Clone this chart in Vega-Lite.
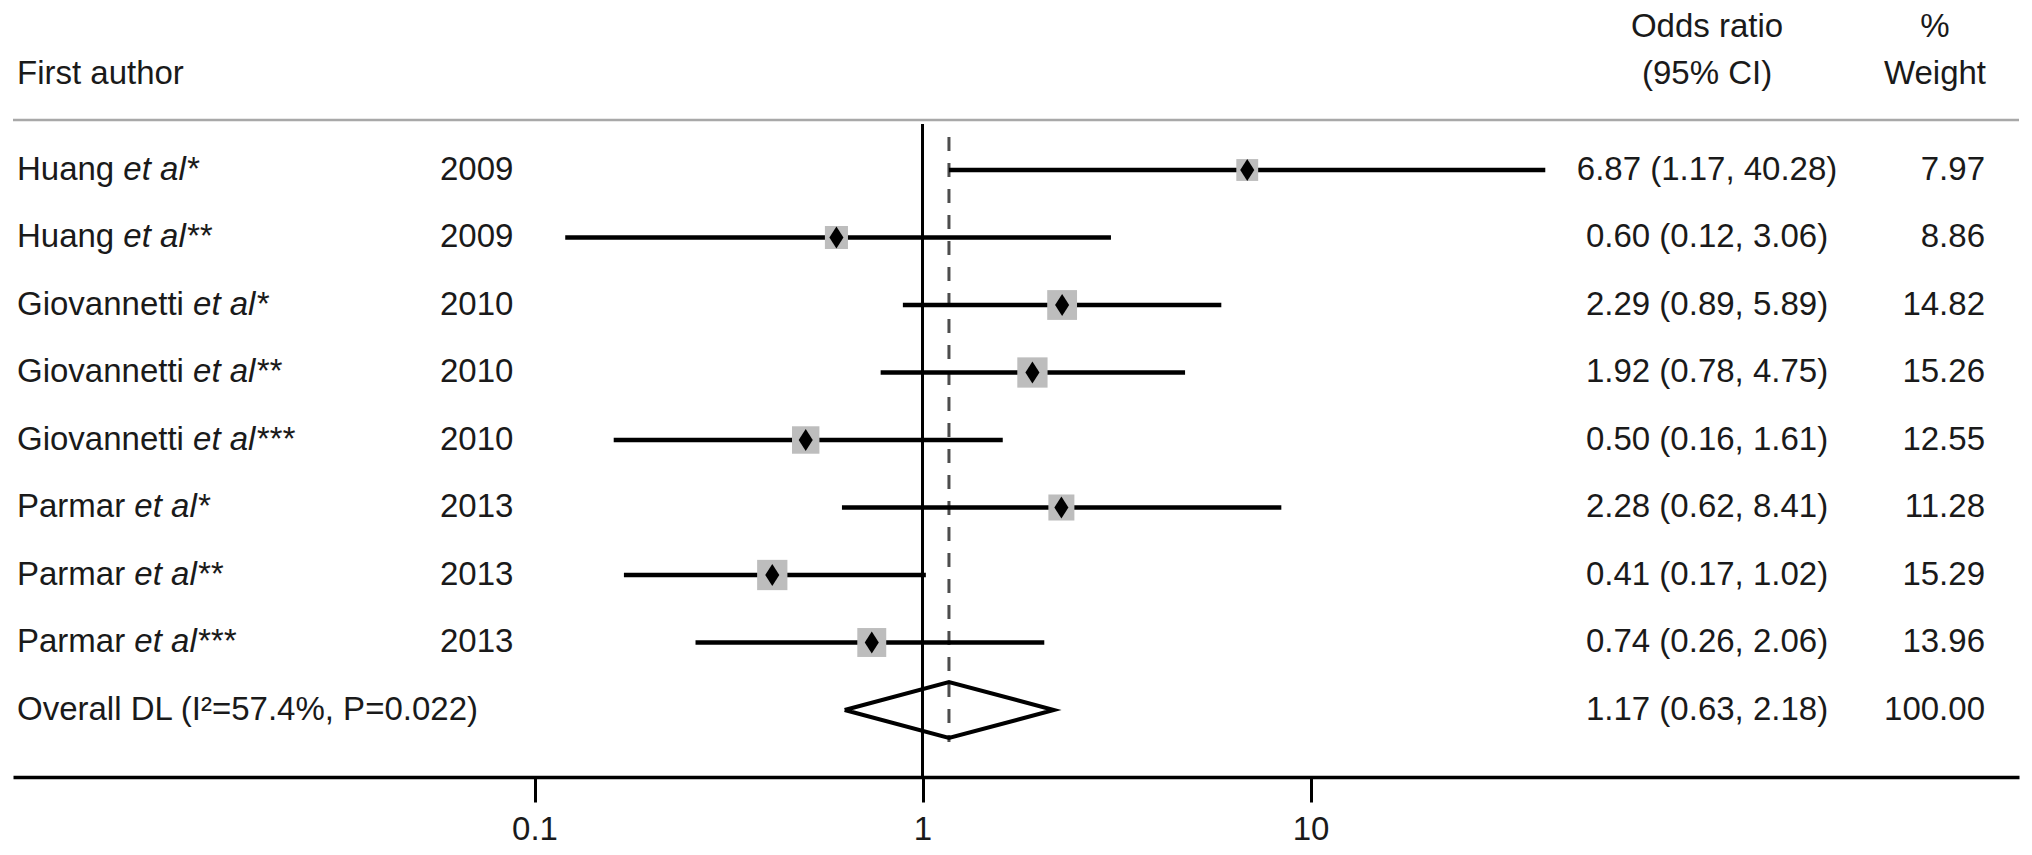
{
  "$schema": "https://vega.github.io/schema/vega-lite/v6.json",
  "width": 2006,
  "height": 777,
  "autosize": {"type": "none"},
  "padding": {"left": 13, "right": 13, "top": 0, "bottom": 78},
  "background": "white",
  "config": {
    "view": {"stroke": null},
    "text": {"font": "Liberation Sans", "fontSize": 33, "color": "#1a1a1a"},
    "axisX": {
      "domainColor": "#000000", "domainWidth": 3.5, "domainCap": "butt",
      "tickColor": "#000000", "tickWidth": 3, "tickSize": 25,
      "labelFont": "Liberation Sans", "labelFontSize": 33, "labelColor": "#1a1a1a",
      "labelPadding": 11, "grid": false, "labelFlush": false
    }
  },
  "datasets": {
    "studies": [
      {"row": 1, "name": "Huang", "etal": "et al*", "year": "2009", "or": 6.87, "lo": 1.17, "hi": 40.28, "weight": 7.97},
      {"row": 2, "name": "Huang", "etal": "et al**", "year": "2009", "or": 0.60, "lo": 0.12, "hi": 3.06, "weight": 8.86},
      {"row": 3, "name": "Giovannetti", "etal": "et al*", "year": "2010", "or": 2.29, "lo": 0.89, "hi": 5.89, "weight": 14.82},
      {"row": 4, "name": "Giovannetti", "etal": "et al**", "year": "2010", "or": 1.92, "lo": 0.78, "hi": 4.75, "weight": 15.26},
      {"row": 5, "name": "Giovannetti", "etal": "et al***", "year": "2010", "or": 0.50, "lo": 0.16, "hi": 1.61, "weight": 12.55},
      {"row": 6, "name": "Parmar", "etal": "et al*", "year": "2013", "or": 2.28, "lo": 0.62, "hi": 8.41, "weight": 11.28},
      {"row": 7, "name": "Parmar", "etal": "et al**", "year": "2013", "or": 0.41, "lo": 0.17, "hi": 1.02, "weight": 15.29},
      {"row": 8, "name": "Parmar", "etal": "et al***", "year": "2013", "or": 0.74, "lo": 0.26, "hi": 2.06, "weight": 13.96}
    ],
    "table": [
      {"row": 1, "name": "Huang", "etal": "et al*", "year": "2009", "ci": "6.87 (1.17, 40.28)", "wt": "7.97"},
      {"row": 2, "name": "Huang", "etal": "et al**", "year": "2009", "ci": "0.60 (0.12, 3.06)", "wt": "8.86"},
      {"row": 3, "name": "Giovannetti", "etal": "et al*", "year": "2010", "ci": "2.29 (0.89, 5.89)", "wt": "14.82"},
      {"row": 4, "name": "Giovannetti", "etal": "et al**", "year": "2010", "ci": "1.92 (0.78, 4.75)", "wt": "15.26"},
      {"row": 5, "name": "Giovannetti", "etal": "et al***", "year": "2010", "ci": "0.50 (0.16, 1.61)", "wt": "12.55"},
      {"row": 6, "name": "Parmar", "etal": "et al*", "year": "2013", "ci": "2.28 (0.62, 8.41)", "wt": "11.28"},
      {"row": 7, "name": "Parmar", "etal": "et al**", "year": "2013", "ci": "0.41 (0.17, 1.02)", "wt": "15.29"},
      {"row": 8, "name": "Parmar", "etal": "et al***", "year": "2013", "ci": "0.74 (0.26, 2.06)", "wt": "13.96"},
      {"row": 9, "name": "Overall DL (I²=57.4%, P=0.022)", "etal": "", "year": "", "ci": "1.17 (0.63, 2.18)", "wt": "100.00"}
    ],
    "diamond": [
      {"k": 0, "v": 0.63, "pos": 9},
      {"k": 1, "v": 1.17, "pos": 8.585},
      {"k": 2, "v": 2.18, "pos": 9},
      {"k": 3, "v": 1.17, "pos": 9.415},
      {"k": 4, "v": 0.63, "pos": 9}
    ]
  },
  "data": {"values": [{}]},
  "layer": [
    {
      "mark": {"type": "rule", "color": "#a8a8a8", "strokeWidth": 2.5},
      "encoding": {
        "y": {"datum": 0.2593, "type": "quantitative", "scale": {"domain": [9.9926, -1.5185], "nice": false, "zero": false}, "axis": null}
      }
    },
    {
      "mark": {"type": "rule", "color": "#000000", "strokeWidth": 3},
      "encoding": {
        "x": {"datum": 1, "type": "quantitative", "scale": {"type": "log", "domain": [0.004528, 669.9], "nice": false}, "axis": {"title": null, "values": [0.1, 1, 10], "format": "~g"}},
        "y": {"datum": 0.3185, "type": "quantitative", "scale": {"domain": [9.9926, -1.5185], "nice": false, "zero": false}, "axis": null},
        "y2": {"datum": 9.9926}
      }
    },
    {
      "mark": {"type": "rule", "color": "#4d4d4d", "strokeWidth": 3, "strokeDash": [14, 12]},
      "encoding": {
        "x": {"datum": 1.17, "type": "quantitative", "scale": {"type": "log", "domain": [0.004528, 669.9], "nice": false}, "axis": {"title": null, "values": [0.1, 1, 10], "format": "~g"}},
        "y": {"datum": 0.5111, "type": "quantitative", "scale": {"domain": [9.9926, -1.5185], "nice": false, "zero": false}, "axis": null},
        "y2": {"datum": 9.4741}
      }
    },
    {
      "data": {"name": "studies"},
      "mark": {"type": "rule", "color": "#000000", "strokeWidth": 4.5},
      "encoding": {
        "x": {"field": "lo", "type": "quantitative", "scale": {"type": "log", "domain": [0.004528, 669.9], "nice": false}, "axis": {"title": null, "values": [0.1, 1, 10], "format": "~g"}},
        "x2": {"field": "hi"},
        "y": {"field": "row", "type": "quantitative", "scale": {"domain": [9.9926, -1.5185], "nice": false, "zero": false}, "axis": null}
      }
    },
    {
      "data": {"name": "studies"},
      "mark": {"type": "point", "shape": "square", "filled": true, "color": "#bdbdbd", "opacity": 1},
      "encoding": {
        "x": {"field": "or", "type": "quantitative", "scale": {"type": "log", "domain": [0.004528, 669.9], "nice": false}, "axis": {"title": null, "values": [0.1, 1, 10], "format": "~g"}},
        "y": {"field": "row", "type": "quantitative", "scale": {"domain": [9.9926, -1.5185], "nice": false, "zero": false}, "axis": null},
        "size": {"field": "weight", "type": "quantitative", "scale": {"type": "linear", "domain": [0, 16], "range": [0, 960]}, "legend": null}
      }
    },
    {
      "data": {"name": "studies"},
      "mark": {"type": "point", "shape": "M0,-1L0.64,0L0,1L-0.64,0Z", "filled": true, "color": "#000000", "opacity": 1, "size": 484},
      "encoding": {
        "x": {"field": "or", "type": "quantitative", "scale": {"type": "log", "domain": [0.004528, 669.9], "nice": false}, "axis": {"title": null, "values": [0.1, 1, 10], "format": "~g"}},
        "y": {"field": "row", "type": "quantitative", "scale": {"domain": [9.9926, -1.5185], "nice": false, "zero": false}, "axis": null}
      }
    },
    {
      "data": {"name": "diamond"},
      "mark": {"type": "line", "color": "#000000", "strokeWidth": 4, "strokeJoin": "miter"},
      "encoding": {
        "x": {"field": "v", "type": "quantitative", "scale": {"type": "log", "domain": [0.004528, 669.9], "nice": false}, "axis": {"title": null, "values": [0.1, 1, 10], "format": "~g"}},
        "y": {"field": "pos", "type": "quantitative", "scale": {"domain": [9.9926, -1.5185], "nice": false, "zero": false}, "axis": null},
        "order": {"field": "k", "type": "quantitative"}
      }
    },
    {
      "data": {"name": "table"},
      "mark": {"type": "text", "align": "left"},
      "encoding": {
        "x": {"datum": 0.004636, "type": "quantitative", "scale": {"type": "log", "domain": [0.004528, 669.9], "nice": false}, "axis": {"title": null, "values": [0.1, 1, 10], "format": "~g"}},
        "y": {"field": "row", "type": "quantitative", "scale": {"domain": [9.9926, -1.5185], "nice": false, "zero": false}, "axis": null},
        "text": {"field": "name"}
      }
    },
    {
      "data": {"name": "table"},
      "transform": [{"filter": "datum.name === 'Huang'"}],
      "mark": {"type": "text", "align": "left", "fontStyle": "italic", "dx": 106.4},
      "encoding": {
        "x": {"datum": 0.004636, "type": "quantitative", "scale": {"type": "log", "domain": [0.004528, 669.9], "nice": false}, "axis": {"title": null, "values": [0.1, 1, 10], "format": "~g"}},
        "y": {"field": "row", "type": "quantitative", "scale": {"domain": [9.9926, -1.5185], "nice": false, "zero": false}, "axis": null},
        "text": {"field": "etal"}
      }
    },
    {
      "data": {"name": "table"},
      "transform": [{"filter": "datum.name === 'Giovannetti'"}],
      "mark": {"type": "text", "align": "left", "fontStyle": "italic", "dx": 176.1},
      "encoding": {
        "x": {"datum": 0.004636, "type": "quantitative", "scale": {"type": "log", "domain": [0.004528, 669.9], "nice": false}, "axis": {"title": null, "values": [0.1, 1, 10], "format": "~g"}},
        "y": {"field": "row", "type": "quantitative", "scale": {"domain": [9.9926, -1.5185], "nice": false, "zero": false}, "axis": null},
        "text": {"field": "etal"}
      }
    },
    {
      "data": {"name": "table"},
      "transform": [{"filter": "datum.name === 'Parmar'"}],
      "mark": {"type": "text", "align": "left", "fontStyle": "italic", "dx": 117.4},
      "encoding": {
        "x": {"datum": 0.004636, "type": "quantitative", "scale": {"type": "log", "domain": [0.004528, 669.9], "nice": false}, "axis": {"title": null, "values": [0.1, 1, 10], "format": "~g"}},
        "y": {"field": "row", "type": "quantitative", "scale": {"domain": [9.9926, -1.5185], "nice": false, "zero": false}, "axis": null},
        "text": {"field": "etal"}
      }
    },
    {
      "data": {"name": "table"},
      "mark": {"type": "text", "align": "left"},
      "encoding": {
        "x": {"datum": 0.05707, "type": "quantitative", "scale": {"type": "log", "domain": [0.004528, 669.9], "nice": false}, "axis": {"title": null, "values": [0.1, 1, 10], "format": "~g"}},
        "y": {"field": "row", "type": "quantitative", "scale": {"domain": [9.9926, -1.5185], "nice": false, "zero": false}, "axis": null},
        "text": {"field": "year"}
      }
    },
    {
      "data": {"name": "table"},
      "mark": {"type": "text", "align": "center"},
      "encoding": {
        "x": {"datum": 105.2, "type": "quantitative", "scale": {"type": "log", "domain": [0.004528, 669.9], "nice": false}, "axis": {"title": null, "values": [0.1, 1, 10], "format": "~g"}},
        "y": {"field": "row", "type": "quantitative", "scale": {"domain": [9.9926, -1.5185], "nice": false, "zero": false}, "axis": null},
        "text": {"field": "ci"}
      }
    },
    {
      "data": {"name": "table"},
      "mark": {"type": "text", "align": "right"},
      "encoding": {
        "x": {"datum": 547.5, "type": "quantitative", "scale": {"type": "log", "domain": [0.004528, 669.9], "nice": false}, "axis": {"title": null, "values": [0.1, 1, 10], "format": "~g"}},
        "y": {"field": "row", "type": "quantitative", "scale": {"domain": [9.9926, -1.5185], "nice": false, "zero": false}, "axis": null},
        "text": {"field": "wt"}
      }
    },
    {
      "mark": {"type": "text", "align": "left"},
      "encoding": {
        "x": {"datum": 0.004636, "type": "quantitative", "scale": {"type": "log", "domain": [0.004528, 669.9], "nice": false}, "axis": {"title": null, "values": [0.1, 1, 10], "format": "~g"}},
        "y": {"datum": -0.4222, "type": "quantitative", "scale": {"domain": [9.9926, -1.5185], "nice": false, "zero": false}, "axis": null},
        "text": {"value": "First author"}
      }
    },
    {
      "mark": {"type": "text", "align": "center"},
      "encoding": {
        "x": {"datum": 105.2, "type": "quantitative", "scale": {"type": "log", "domain": [0.004528, 669.9], "nice": false}, "axis": {"title": null, "values": [0.1, 1, 10], "format": "~g"}},
        "y": {"datum": -1.1185, "type": "quantitative", "scale": {"domain": [9.9926, -1.5185], "nice": false, "zero": false}, "axis": null},
        "text": {"value": "Odds ratio"}
      }
    },
    {
      "mark": {"type": "text", "align": "center"},
      "encoding": {
        "x": {"datum": 105.2, "type": "quantitative", "scale": {"type": "log", "domain": [0.004528, 669.9], "nice": false}, "axis": {"title": null, "values": [0.1, 1, 10], "format": "~g"}},
        "y": {"datum": -0.4222, "type": "quantitative", "scale": {"domain": [9.9926, -1.5185], "nice": false, "zero": false}, "axis": null},
        "text": {"value": "(95% CI)"}
      }
    },
    {
      "mark": {"type": "text", "align": "center"},
      "encoding": {
        "x": {"datum": 406.9, "type": "quantitative", "scale": {"type": "log", "domain": [0.004528, 669.9], "nice": false}, "axis": {"title": null, "values": [0.1, 1, 10], "format": "~g"}},
        "y": {"datum": -1.1185, "type": "quantitative", "scale": {"domain": [9.9926, -1.5185], "nice": false, "zero": false}, "axis": null},
        "text": {"value": "%"}
      }
    },
    {
      "mark": {"type": "text", "align": "center"},
      "encoding": {
        "x": {"datum": 406.9, "type": "quantitative", "scale": {"type": "log", "domain": [0.004528, 669.9], "nice": false}, "axis": {"title": null, "values": [0.1, 1, 10], "format": "~g"}},
        "y": {"datum": -0.4222, "type": "quantitative", "scale": {"domain": [9.9926, -1.5185], "nice": false, "zero": false}, "axis": null},
        "text": {"value": "Weight"}
      }
    }
  ]
}
